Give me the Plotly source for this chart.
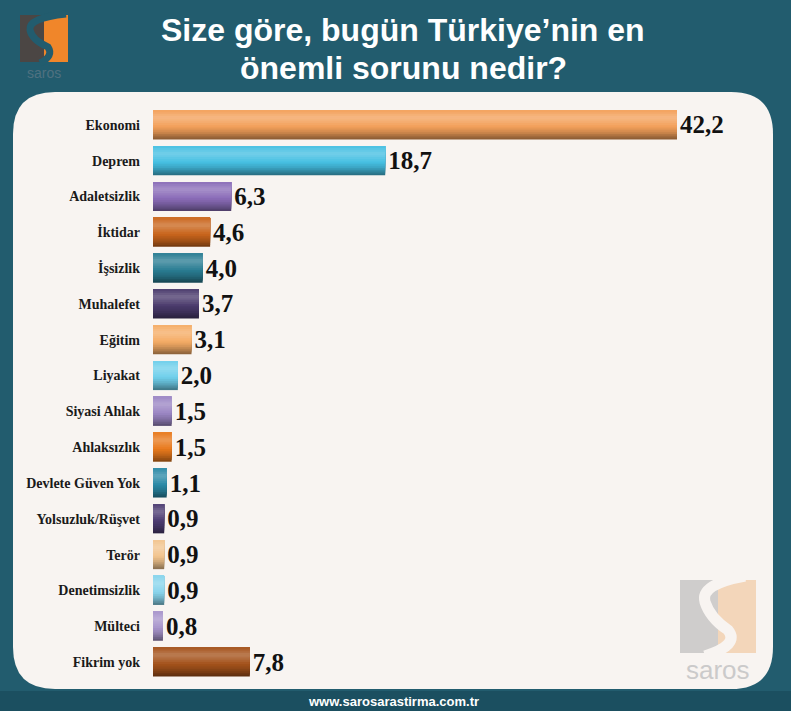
import plotly.graph_objects as go

categories = ["Ekonomi", "Deprem", "Adaletsizlik", "İktidar", "İşsizlik", "Muhalefet",
              "Eğitim", "Liyakat", "Siyasi Ahlak", "Ahlaksızlık", "Devlete Güven Yok",
              "Yolsuzluk/Rüşvet", "Terör", "Denetimsizlik", "Mülteci", "Fikrim yok"]
values = [42.2, 18.7, 6.3, 4.6, 4.0, 3.7, 3.1, 2.0, 1.5, 1.5, 1.1, 0.9, 0.9, 0.9, 0.8, 7.8]
colors = ["#f3a05a", "#45bfe2", "#8a6cb8", "#c9651c", "#2a7d93", "#4a3a6c",
          "#f5ac66", "#6fcfeb", "#9b86c4", "#e8791c", "#2b89a6", "#4d3c72",
          "#f2c48e", "#88d4ec", "#a895cb", "#a4521b"]
title_lines = ["Size göre, bugün Türkiye’nin en", "önemli sorunu nedir?"]
footer_text = "www.sarosarastirma.com.tr"

W, H = 791, 711
BG = "#225c6e"
PANEL = "#f8f4f1"


def mix(hexc, other, t):
    a = [int(hexc[i:i + 2], 16) for i in (1, 3, 5)]
    b = [int(other[i:i + 2], 16) for i in (1, 3, 5)]
    c = [round(a[k] + (b[k] - a[k]) * t) for k in range(3)]
    return "#%02x%02x%02x" % tuple(c)


def shade(c, t):
    return mix(c, "#ffffff", t) if t >= 0 else mix(c, "#000000", -t)


def profile(s):
    # brightness along the bar thickness, s=0 top, s=1 bottom
    pts = [(0.0, 0.02), (0.25, 0.25), (0.5, 0.05), (0.75, -0.15), (1.0, -0.45)]
    for (s0, t0), (s1, t1) in zip(pts, pts[1:]):
        if s <= s1:
            return t0 + (t1 - t0) * (s - s0) / (s1 - s0)
    return pts[-1][1]


def px(x):
    return x / W


def py(y):
    return 1 - y / H


labels = [f"{v:.1f}".replace(".", ",") for v in values]

fig = go.Figure()
BW = 0.81
N = 16
for i in range(N):
    d_hi = 1 - i / N
    d_lo = 1 - (i + 1) / N
    t = profile((d_hi + d_lo) / 2)
    fig.add_trace(go.Bar(y=categories, x=values, orientation="h", width=BW * d_hi, offset=-BW / 2,
                         marker=dict(color=[shade(c, t) for c in colors], line=dict(width=0)),
                         hoverinfo="skip", showlegend=False))
# value labels
fig.add_trace(go.Bar(y=categories, x=values, orientation="h", width=BW,
                     marker=dict(color="rgba(0,0,0,0)", line=dict(width=0)),
                     text=labels, textposition="outside", cliponaxis=False, textangle=0,
                     textfont=dict(family="Liberation Serif", size=25, color="#111111", weight="bold"),
                     hoverinfo="skip", showlegend=False))

shapes = []
# panel with rounded corners
x0, x1, y0, y1 = 13, 773, 92, 689
r = 42
path = (f"M {px(x0 + r)},{py(y0)} L {px(x1 - r)},{py(y0)} "
        f"Q {px(x1)},{py(y0)} {px(x1)},{py(y0 + r)} "
        f"L {px(x1)},{py(y1 - r)} Q {px(x1)},{py(y1)} {px(x1 - r)},{py(y1)} "
        f"L {px(x0 + r)},{py(y1)} Q {px(x0)},{py(y1)} {px(x0)},{py(y1 - r)} "
        f"L {px(x0)},{py(y0 + r)} Q {px(x0)},{py(y0)} {px(x0 + r)},{py(y0)} Z")
shapes.append(dict(type="path", xref="paper", yref="paper", path=path,
                   fillcolor=PANEL, line=dict(width=0), layer="below"))
# footer band
shapes.append(dict(type="rect", xref="paper", yref="paper", x0=0, x1=1, y0=0, y1=py(691),
                   fillcolor="#1b4f60", line=dict(width=0), layer="below"))

# top-left logo
shapes.append(dict(type="rect", xref="paper", yref="paper", x0=px(20), x1=px(44), y0=py(62), y1=py(15),
                   fillcolor="#4b4644", line=dict(width=0), layer="above"))
shapes.append(dict(type="rect", xref="paper", yref="paper", x0=px(44), x1=px(68), y0=py(62), y1=py(15),
                   fillcolor="#f0862a", line=dict(width=0), layer="above"))
spath = (f"M {px(66)},{py(14)} Q {px(28)},{py(18)} {px(30)},{py(30)} "
         f"Q {px(32)},{py(40)} {px(48)},{py(47)} Q {px(54)},{py(56)} {px(40)},{py(63)}")
shapes.append(dict(type="path", xref="paper", yref="paper", path=spath,
                   line=dict(color=BG, width=7), layer="above"))

# bottom-right watermark logo
shapes.append(dict(type="rect", xref="paper", yref="paper", x0=px(680), x1=px(718), y0=py(653), y1=py(580),
                   fillcolor="#cfcdcc", line=dict(width=0), layer="below"))
shapes.append(dict(type="rect", xref="paper", yref="paper", x0=px(718), x1=px(756), y0=py(653), y1=py(580),
                   fillcolor="#f3d6ba", line=dict(width=0), layer="below"))
spath2 = (f"M {px(745)},{py(576)} Q {px(700)},{py(584)} {px(705)},{py(602)} "
          f"Q {px(710)},{py(618)} {px(728)},{py(630)} Q {px(740)},{py(645)} {px(705)},{py(656)}")
shapes.append(dict(type="path", xref="paper", yref="paper", path=spath2,
                   line=dict(color=PANEL, width=11), layer="below"))

TF = "Liberation Sans"
annotations = [
    dict(text="<b>" + title_lines[0] + "</b>", x=px(403), y=py(30), xref="paper", yref="paper",
         showarrow=False, font=dict(family=TF, size=32, color="white"),
         xanchor="center", yanchor="middle"),
    dict(text="<b>" + title_lines[1] + "</b>", x=px(403), y=py(68), xref="paper", yref="paper",
         showarrow=False, font=dict(family=TF, size=32, color="white"),
         xanchor="center", yanchor="middle"),
    dict(text="<b>" + footer_text + "</b>", x=px(393), y=py(701), xref="paper", yref="paper",
         showarrow=False, font=dict(family="Liberation Sans", size=13, color="white"),
         xanchor="center", yanchor="middle"),
    dict(text="saros", x=px(44), y=py(73), xref="paper", yref="paper",
         showarrow=False, font=dict(family="Liberation Sans", size=14, color="#4f7180"),
         xanchor="center", yanchor="middle"),
    dict(text="saros", x=px(718), y=py(670), xref="paper", yref="paper",
         showarrow=False, font=dict(family="Liberation Sans", size=26, color="#cbcaca"),
         xanchor="center", yanchor="middle"),
]

fig.update_layout(
    width=W, height=H,
    margin=dict(l=0, r=0, t=0, b=0),
    paper_bgcolor=BG, plot_bgcolor="rgba(0,0,0,0)",
    barmode="overlay",
    shapes=shapes, annotations=annotations,
    xaxis=dict(domain=[px(153), px(767)], range=[0, (767 - 153) / ((677 - 153) / 42.2)],
               showgrid=False, zeroline=False, showticklabels=False, showline=False),
    yaxis=dict(domain=[py(680), py(107)], autorange="reversed", showgrid=False, zeroline=False,
               showline=False, ticks="", ticklabelstandoff=12,
               tickfont=dict(family="Liberation Serif", size=14, color="#1a1a1a", weight="bold")),
)
fig.write_html("out.html", config={"displayModeBar": False},
               post_script="document.body.style.margin='0';document.body.style.overflow='hidden';")
